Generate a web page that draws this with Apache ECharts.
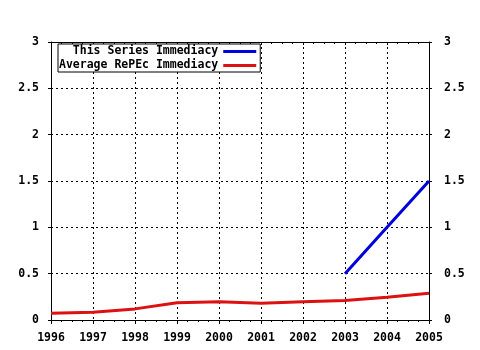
<!DOCTYPE html>
<html><head><meta charset="utf-8">
<script src="https://cdn.jsdelivr.net/npm/echarts@6/dist/echarts.min.js"></script>
<style>html,body{margin:0;padding:0;background:#fff}#c{width:480px;height:350px}</style>
</head><body><div id="c"></div>
<script>
const years = [1996,1997,1998,1999,2000,2001,2002,2003,2004,2005];
const averageRepec = [0.072,0.083,0.12,0.187,0.198,0.18,0.198,0.21,0.245,0.288];
const seriesYears = [2003,2004,2005];
const thisSeries = [0.5,1.0,1.5];
const yTicks = ['0','0.5','1','1.5','2','2.5','3'];

const FONT = '"DejaVu Sans Mono", monospace';
const lbl = {color:'#000', fontFamily:FONT, fontWeight:'bold', fontSize:11.5};
const chart = echarts.init(document.getElementById('c'), null, {renderer:'canvas'});
const yAxisCommon = {
  type:'value', min:0, max:3, interval:0.5,
  axisLine:{show:true, lineStyle:{color:'#000', width:1}},
  axisTick:{show:true, length:3, lineStyle:{color:'#000'}},
  splitLine:{show:false},
  axisLabel:Object.assign({}, lbl, {formatter:v=>String(v)})
};
chart.setOption({
  animation:false,
  backgroundColor:'#fff',
  grid:{left:51, right:51, top:42, bottom:30, containLabel:false},
  legend:{
    orient:'vertical', left:58, top:44, align:'right',
    padding:[1,4,0,1], itemGap:1, itemWidth:33, itemHeight:3, itemTextGap:7,
    borderColor:'#000', borderWidth:1, backgroundColor:'#fff',
    icon:'rect',
    formatter:n=>n.padStart(23,' '),
    textStyle:Object.assign({}, lbl, {lineHeight:13}),
    data:['This Series Immediacy','Average RePEc Immediacy']
  },
  xAxis:[{
    type:'value', position:'bottom', min:1996, max:2005, interval:1,
    axisLine:{show:true, onZero:false, lineStyle:{color:'#000'}},
    axisTick:{show:true, length:4, lineStyle:{color:'#000'}},
    minorTick:{show:true, splitNumber:4, length:2, lineStyle:{color:'#000'}},
    splitLine:{show:true, lineStyle:{color:'#000', type:[2,3], width:1}},
    axisLabel:Object.assign({}, lbl, {margin:12, formatter:v=>String(v)})
  },{
    type:'value', position:'top', min:1996, max:2005, interval:1,
    axisLine:{show:true, onZero:false, lineStyle:{color:'#000'}},
    axisTick:{show:true, inside:true, length:3, lineStyle:{color:'#000'}},
    minorTick:{show:true, splitNumber:4, length:2, lineStyle:{color:'#000'}},
    splitLine:{show:false},
    axisLabel:{show:false}
  }],
  yAxis:[
    Object.assign({}, yAxisCommon, {position:'left', axisLabel:Object.assign({}, yAxisCommon.axisLabel, {margin:12}),
      splitLine:{show:true, lineStyle:{color:'#000', type:[2,3], width:1}}}),
    Object.assign({}, yAxisCommon, {position:'right', axisLabel:Object.assign({}, yAxisCommon.axisLabel, {margin:15})})
  ],
  series:[{
    name:'This Series Immediacy', type:'line', showSymbol:false, symbol:'none',
    color:'#0000dd', lineStyle:{width:3, color:'#0000dd'},
    data:seriesYears.map((y,i)=>[y,thisSeries[i]])
  },{
    name:'Average RePEc Immediacy', type:'line', showSymbol:false, symbol:'none',
    color:'#dd1111', lineStyle:{width:3, color:'#dd1111'},
    data:years.map((y,i)=>[y,averageRepec[i]])
  }]
});
</script></body></html>
